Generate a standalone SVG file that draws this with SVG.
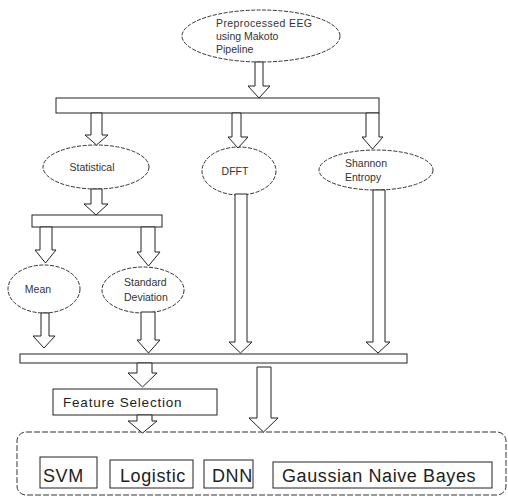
<svg xmlns="http://www.w3.org/2000/svg" width="508" height="498" viewBox="0 0 508 498">
<style>
.ell{fill:#fff;stroke:#333;stroke-width:1;stroke-dasharray:4 1.5}
.bar{fill:#fff;stroke:#222;stroke-width:1}
.box{fill:#fff;stroke:#222;stroke-width:1}
.arr{fill:#fff;stroke:#222;stroke-width:1;stroke-linejoin:miter}
.outer{fill:none;stroke:#333;stroke-width:1;stroke-dasharray:6 2}
.t{font-family:"Liberation Sans",Arial,sans-serif;font-size:10.5px;fill:#333}
.m{font-family:"Liberation Sans",Arial,sans-serif;font-size:18px;letter-spacing:0.6px;fill:#222}
.f{font-family:"Liberation Sans",Arial,sans-serif;font-size:13.5px;letter-spacing:0.8px;fill:#222}
</style>
<rect width="508" height="498" fill="#fff"/>
<g id="top"><ellipse class="ell" cx="261" cy="36" rx="79" ry="26"/>
<text class="t" x="216" y="27" textLength="96">Preprocessed EEG</text>
<text class="t" x="216" y="40">using Makoto</text>
<text class="t" x="216" y="53">Pipeline</text></g>
<g id="bar1"><rect class="bar" x="56" y="98" width="323" height="15"/></g>
<g id="statistical"><ellipse class="ell" cx="96" cy="167" rx="53" ry="22"/>
<text class="t" x="92" y="171" text-anchor="middle">Statistical</text></g>
<g id="dfft"><ellipse class="ell" cx="239" cy="171" rx="37" ry="24"/>
<text class="t" x="235" y="175" text-anchor="middle">DFFT</text></g>
<g id="shannon"><ellipse class="ell" cx="376" cy="170" rx="57" ry="20"/>
<text class="t" x="345" y="167">Shannon</text>
<text class="t" x="345" y="181">Entropy</text></g>
<g id="bar2"><rect class="bar" x="32" y="215" width="130" height="12"/></g>
<g id="mean"><ellipse class="ell" cx="44" cy="289" rx="36" ry="24"/>
<text class="t" x="38" y="293" text-anchor="middle">Mean</text></g>
<g id="std"><ellipse class="ell" cx="143" cy="290" rx="41" ry="23"/>
<text class="t" x="124" y="286">Standard</text>
<text class="t" x="124" y="301">Deviation</text></g>
<g id="bar3"><rect class="bar" x="20" y="354" width="387" height="9"/></g>
<g id="feature"><rect class="box" x="53" y="389" width="164" height="26"/>
<text class="f" x="63" y="407">Feature Selection</text></g>
<g id="models"><rect class="outer" x="17" y="432" width="489" height="63" rx="9"/>
<rect class="box" x="40" y="457" width="57" height="31"/>
<text class="m" x="43" y="482">SVM</text>
<rect class="box" x="110" y="460" width="83" height="28"/>
<text class="m" x="120" y="482">Logistic</text>
<rect class="box" x="204" y="460" width="49" height="28"/>
<text class="m" x="212" y="482">DNN</text>
<rect class="box" x="273" y="462" width="219" height="26"/>
<text class="m" x="282" y="482">Gaussian Naive Bayes</text></g>
<g id="connectors">
<path class="arr" d="M255,62 H263 V86 H270 L259,98 L248,86 H255 Z"/>
<path class="arr" d="M91,113 H102 V135 H108 L96.5,145 L85,135 H91 Z"/>
<path class="arr" d="M232,113 H241 V137 H248 L238,148 L228,137 H232 Z"/>
<path class="arr" d="M366,113 H379 V137 H383 L372.5,149 L362,137 H366 Z"/>
<path class="arr" d="M91,189 H102 V204 H108 L96,215 L84,204 H91 Z"/>
<path class="arr" d="M40,227 H52 V250 H56 L45.5,263 L35,250 H40 Z"/>
<path class="arr" d="M141,227 H155 V252 H160 L148.5,266 L137,252 H141 Z"/>
<path class="arr" d="M41,313 H49 V336 H55 L44,348 L33,336 H41 Z"/>
<path class="arr" d="M141,312 H155 V340 H160 L148.5,353 L137,340 H141 Z"/>
<path class="arr" d="M235,194 H247 V342 H252 L240.5,353 L229,342 H235 Z"/>
<path class="arr" d="M373,190 H385 V342 H390 L378,353 L366,342 H373 Z"/>
<path class="arr" d="M137,363 H152 V373 H157 L142.5,387 L128,373 H137 Z"/>
<path class="arr" d="M137,415 H152 V421 H157 L142.5,433 L128,421 H137 Z"/>
<path class="arr" d="M257,367 H271 V418 H278 L263.5,432 L249,418 H257 Z"/>
</g>
</svg>
